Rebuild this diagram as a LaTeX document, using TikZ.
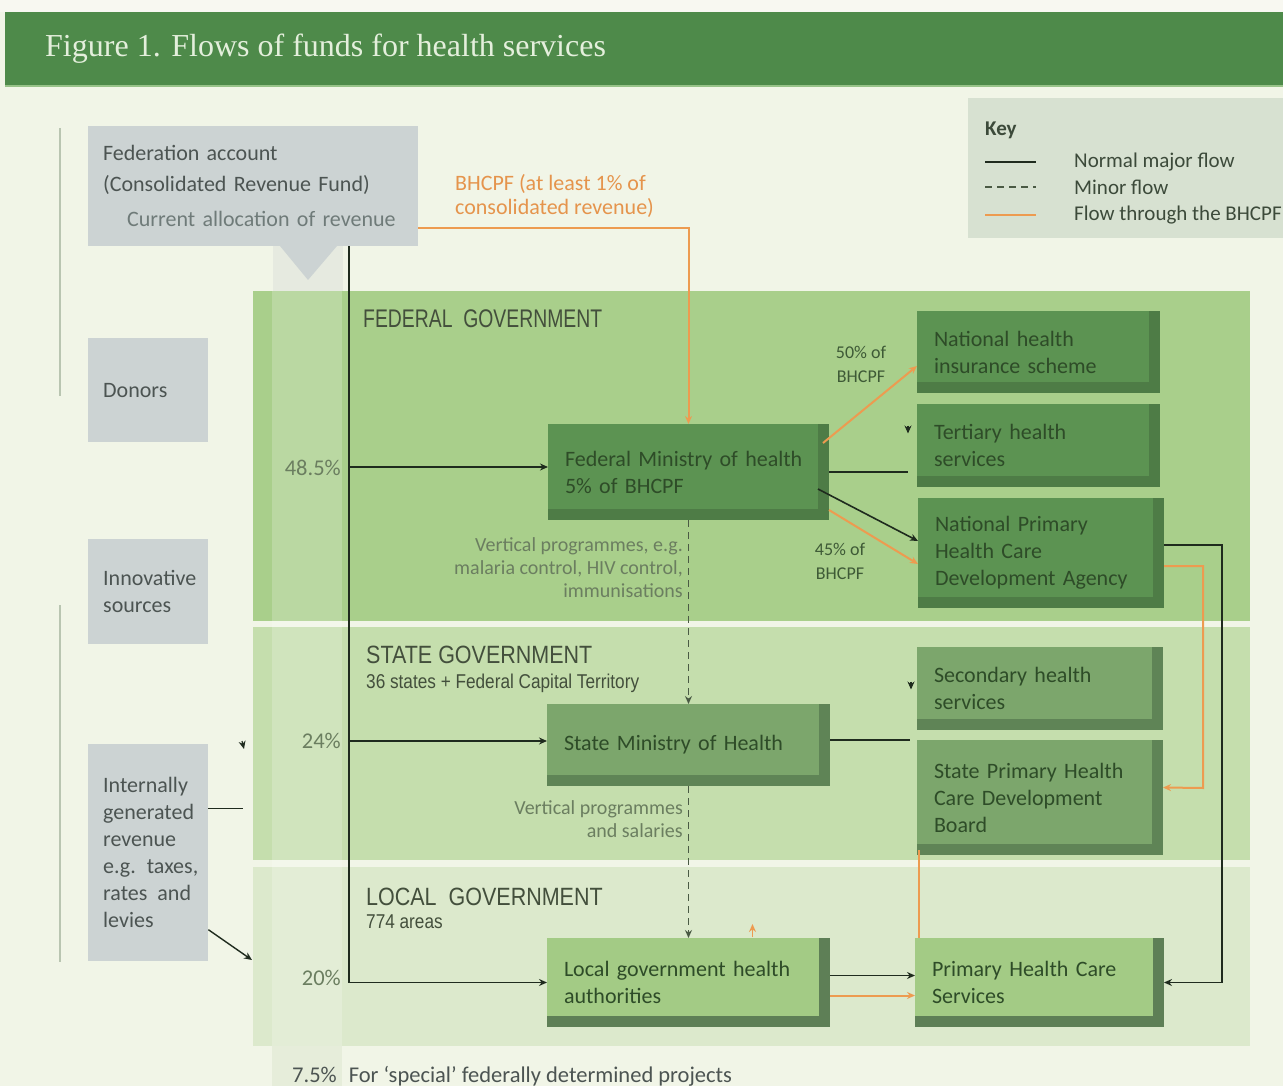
\documentclass[tikz,border=0pt]{standalone}
\usepackage{fontspec}
\setmainfont{Carlito}
\newfontfamily\titlefont{Liberation Serif}
\newfontfamily\narrowA[FakeStretch=0.86]{Liberation Sans}
\newfontfamily\narrowB[FakeStretch=0.76]{Liberation Sans}
\usetikzlibrary{arrows.meta,calc}
\definecolor{pagebg}{HTML}{F1F5E7}
\definecolor{topbg}{HTML}{F8F8F1}
\definecolor{hdr}{HTML}{4E8A4A}
\definecolor{hdrline}{HTML}{97C288}
\definecolor{titlec}{HTML}{E4EFDC}
\definecolor{graybox}{HTML}{CCD3D3}
\definecolor{graytxt}{HTML}{4C5452}
\definecolor{graytxt2}{HTML}{6F7B79}
\definecolor{keybg}{HTML}{D7E1D1}
\definecolor{keytxt}{HTML}{3C4A3A}
\definecolor{fedpan}{HTML}{A9CF8B}
\definecolor{statepan}{HTML}{C5DEAD}
\definecolor{localpan}{HTML}{DCE9CC}
\definecolor{stripc}{HTML}{E6EDDA}
\definecolor{stripup}{HTML}{E6EAE0}
\definecolor{fedout}{HTML}{4E7C46}
\definecolor{fedin}{HTML}{5C9352}
\definecolor{stout}{HTML}{5F8456}
\definecolor{stin}{HTML}{7CA66C}
\definecolor{loout}{HTML}{5E7F56}
\definecolor{loin}{HTML}{A3CB85}
\definecolor{boxtxt}{HTML}{2E4C28}
\definecolor{lbltxt}{HTML}{6B7E60}
\definecolor{darklbl}{HTML}{3E5A36}
\definecolor{pantxt}{HTML}{434F3C}
\definecolor{orng}{HTML}{ED9B50}
\definecolor{orngtxt}{HTML}{E5944C}
\definecolor{linec}{HTML}{1F2B1E}
\definecolor{dashc}{HTML}{4A5A44}
\definecolor{sideline}{HTML}{B9C5B1}
\begin{document}
\begin{tikzpicture}[x=1pt,y=-1pt,
  tip/.style={-{Stealth[length=8pt,width=7pt]}},
  majorflow/.style={draw=linec,line width=1.6pt},
  minorflow/.style={draw=dashc,line width=1.2pt,dash pattern=on 7pt off 5pt},
  bhcpf/.style={draw=orng,line width=2pt},
  body/.style={font=\fontsize{22}{27}\selectfont},
  pct/.style={font=\fontsize{22.5}{25}\selectfont, text=lbltxt, inner sep=0pt},
  smalllbl/.style={font=\fontsize{20}{23}\selectfont, text=lbltxt, inner sep=0pt},
  bhclbl/.style={font=\fontsize{18}{24}\selectfont, text=darklbl, inner sep=0pt, align=center},
  gbox/.style={rectangle, fill=graybox, anchor=north west, inner xsep=15pt, inner ysep=0pt, align=left, text=graytxt, body},
  greenbox/.style 2 args={rectangle, anchor=north west, fill=#1, inner xsep=17pt, inner ysep=0pt, outer sep=0pt, align=left, text=boxtxt, body,
    path picture={\fill[#2] (path picture bounding box.north west) rectangle ([xshift=-11pt,yshift=11pt]path picture bounding box.south east);}},
  keytext/.style={anchor=west, inner sep=0pt, font=\fontsize{21}{25}\selectfont, text=keytxt}
]
\useasboundingbox (0,0) rectangle (1283,1086);
\clip (0,0) rectangle (1283,1086);
% background and header
\fill[pagebg] (0,0) rectangle (1283,1086);
\fill[topbg] (0,0) rectangle (1283,12);
\fill[hdr] (5,12) rectangle (1283,85);
\fill[hdrline] (5,85) rectangle (1283,87);
\node[anchor=base west, inner sep=0pt, font=\titlefont\fontsize{32}{36}\selectfont, text=titlec] (title) at (45,57) {Figure 1. Flows of funds for health services};

% side lines
\draw[sideline, line width=1.5pt] (60,128) -- (60,396);
\draw[sideline, line width=1.5pt] (60,605) -- (60,962);

% government panels
\fill[fedpan] (253,291) rectangle (1250,621);
\fill[statepan] (253,627) rectangle (1250,860);
\fill[localpan] (253,867) rectangle (1250,1046);
% 7.5% strip
\fill[stripup] (273,246) rectangle (343,291);
\fill[white, opacity=0.2] (272,291) rectangle (342,1046);
\fill[stripc] (272,1046) rectangle (342,1086);

% key
\node[rectangle, fill=keybg, anchor=north west, minimum width=340pt, minimum height=140pt, inner sep=0pt] (key) at (968,98) {};
\node[keytext, font=\bfseries\fontsize{21}{25}\selectfont] (keytitle) at (985,130) {Key};
\draw[majorflow, line width=1.3pt] ($(key.north west)+(17,64)$) -- ++(51,0);
\draw[minorflow] ($(key.north west)+(17,89)$) -- ++(51,0);
\draw[bhcpf, line width=1.5pt] ($(key.north west)+(17,117)$) -- ++(51,0);
\node[keytext] (k1) at (1074,162) {Normal major flow};
\node[keytext] (k2) at (1074,187) {Minor flow};
\node[keytext] (k3) at (1074,215) {Flow through the BHCPF};

% source boxes
\node[gbox, minimum width=330pt, minimum height=120pt, text width=300pt] (fedacc) at (88,126)
  {Federation account\\[4pt](Consolidated Revenue Fund)\\[8pt]\hspace*{24pt}{\color{graytxt2}Current allocation of revenue}};
\fill[graybox] (280,246) -- (337,246) -- (308,280) -- cycle;
\node[gbox, minimum width=120pt, minimum height=104pt, text width=90pt] (donors) at (88,338) {Donors};
\node[gbox, minimum width=120pt, minimum height=105pt, text width=90pt] (innov) at (88,539) {Innovative\\sources};
\node[gbox, minimum width=120pt, minimum height=217pt, text width=90pt] (igr) at (88,744)
  {Internally\\generated\\revenue\\\mbox{e.g. taxes,}\\\mbox{rates\hspace{10pt}and}\\levies};

% panel titles
\node[anchor=base west, inner sep=0pt, font=\narrowB\fontsize{25.5}{30}\selectfont, text=pantxt] (fedtitle) at (363,327) {FEDERAL\ \ GOVERNMENT};
\node[anchor=base west, inner sep=0pt, font=\narrowA\fontsize{25}{30}\selectfont, text=pantxt] (sttitle) at (366,663) {STATE GOVERNMENT};
\node[anchor=base west, inner sep=0pt, font=\narrowA\fontsize{20}{24}\selectfont, text=pantxt] (stsub) at (366,688) {36 states + Federal Capital Territory};
\node[anchor=base west, inner sep=0pt, font=\narrowA\fontsize{25}{30}\selectfont, text=pantxt] (lotitle) at (366,905) {LOCAL\ \ GOVERNMENT};
\node[anchor=base west, inner sep=0pt, font=\narrowA\fontsize{20}{24}\selectfont, text=pantxt] (losub) at (366,928) {774 areas};

% federal boxes
\node[greenbox={fedout}{fedin}, minimum width=281pt, minimum height=96pt, text width=247pt] (fmoh) at (548,424) {Federal Ministry of health\\5\% of BHCPF};
\node[greenbox={fedout}{fedin}, minimum width=243pt, minimum height=82pt, text width=209pt] (nhis) at (917,311) {National health\\insurance scheme};
\node[greenbox={fedout}{fedin}, minimum width=243pt, minimum height=83pt, text width=209pt] (tert) at (917,404) {Tertiary health\\services};
\node[greenbox={fedout}{fedin}, minimum width=246pt, minimum height=110pt, text width=212pt] (nphc) at (918,498) {National Primary\\Health Care\\Development Agency};
% state boxes
\node[greenbox={stout}{stin}, minimum width=283pt, minimum height=82pt, text width=249pt] (smoh) at (547,704) {State Ministry of Health};
\node[greenbox={stout}{stin}, minimum width=246pt, minimum height=83pt, text width=212pt] (sec) at (917,647) {Secondary health\\services};
\node[greenbox={stout}{stin}, minimum width=246pt, minimum height=115pt, text width=212pt] (sphc) at (917,740) {State Primary Health\\Care Development\\Board};
% local boxes
\node[greenbox={loout}{loin}, minimum width=283pt, minimum height=89pt, text width=249pt] (lgha) at (547,938) {Local government health\\authorities};
\node[greenbox={loout}{loin}, minimum width=249pt, minimum height=89pt, text width=215pt, inner xsep=16pt] (phcs) at (915,938) {Primary Health Care\\Services};

% main trunk from federation account
\coordinate (trunk) at (349,0);
\draw[majorflow, tip] (fedacc.south -| trunk) |- (lgha.west);
\coordinate (fin) at ($(fmoh.west)+(0,-5)$);
\draw[majorflow, tip] (trunk |- fin) -- (fin);
\coordinate (sin) at ($(smoh.west)+(0,-4)$);
\draw[majorflow, tip] (trunk |- sin) -- (sin);
\node[pct, anchor=east] (p1) at (341,468) {48.5\%};
\node[pct, anchor=east] (p2) at (341,741) {24\%};
\node[pct, anchor=east] (p3) at (341,978) {20\%};

% BHCPF from federation account
\draw[bhcpf, tip] ($(fedacc.east)+(0,41.5)$) -| (fmoh.north);
\node[anchor=north west, inner sep=0pt, align=left, font=\fontsize{22}{24}\selectfont, text=orngtxt] (bhclabel) at (455,174) {BHCPF (at least 1\% of\\consolidated revenue)};

% federal flows
\draw[bhcpf, tip] ($(fmoh.north east)+(-6,19)$) -- ($(nhis.west)+(0,14)$);
\node[bhclbl, anchor=north] (l50) at (861,346) {50\% of\\BHCPF};
\draw[majorflow] (fmoh.east) -- ($(tert.west |- fmoh.east)+(-9,0)$);
\draw[majorflow, tip] ($(tert.west)+(-9,-20)$) -- ($(tert.west)+(-9,-12)$);
\draw[majorflow, tip] ($(fmoh.east)+(-11,17)$) -- ($(nphc.west)+(0,-12)$);
\draw[bhcpf, tip] ($(fmoh.east)+(0,38)$) -- ($(nphc.west)+(0,11)$);
\node[bhclbl, anchor=north] (l45) at (840,543) {45\% of\\BHCPF};
\draw[minorflow, tip] (fmoh.south) -- (smoh.north);
\node[smalllbl, anchor=north east, align=right] (vp1) at (683,537) {Vertical programmes, e.g.\\malaria control, HIV control,\\immunisations};

% NPHCDA to state and local
\coordinate (rx) at (1222,0);
\draw[majorflow, tip] ($(nphc.east)+(0,-8)$) -| (rx |- phcs.east) -- (phcs.east);
\coordinate (ox) at (1203,0);
\draw[bhcpf, tip] ($(nphc.east)+(0,13)$) -| (ox |- 0,788) -- ($(sphc.east)+(0,-10)$);

% state flows
\draw[majorflow] ($(smoh.east)+(0,-5)$) -- ($(sec.west |- smoh.east)+(-7,-5)$);
\draw[majorflow, tip] ($(sec.west)+(-6,-7)$) -- ($(sec.west)+(-6,1)$);
\draw[minorflow, tip] (smoh.south) -- (lgha.north);
\node[smalllbl, anchor=north east, align=right] (vp2) at (683,800) {Vertical programmes\\and salaries};
\coordinate (sb) at ($(sphc.south west)+(2,0)$);
\draw[bhcpf, line width=1.6pt] ($(sb)+(0,-5)$) -- (sb |- phcs.north);

% local flows
\draw[bhcpf, tip, line width=1.5pt] ($(lgha.north)+(64,-1)$) -- ($(lgha.north)+(64,-14)$);
\draw[majorflow, tip] ($(lgha.east)+(0,-7)$) -- ($(phcs.west)+(0,-7)$);
\draw[bhcpf, tip] ($(lgha.east)+(0,13)$) -- ($(phcs.west)+(0,13)$);

% internally generated revenue flows
\draw[majorflow, line width=1.3pt] ($(igr.east)+(0,-44.5)$) -- ++(35,0);
\coordinate (igrtip) at (244,749);
\draw[majorflow, tip, line width=1.2pt] ($(igrtip)+(-2,-8)$) -- (igrtip);
\coordinate (localin) at (252,960);
\draw[majorflow, tip, line width=1.4pt] ($(igr.east)+(0,77)$) -- (localin);

% bottom note
\node[anchor=west, inner sep=0pt, font=\fontsize{22.5}{25}\selectfont, text=graytxt] (note) at (292,1076) {7.5\%\hspace{12pt}For `special' federally determined projects};
\end{tikzpicture}
\end{document}
